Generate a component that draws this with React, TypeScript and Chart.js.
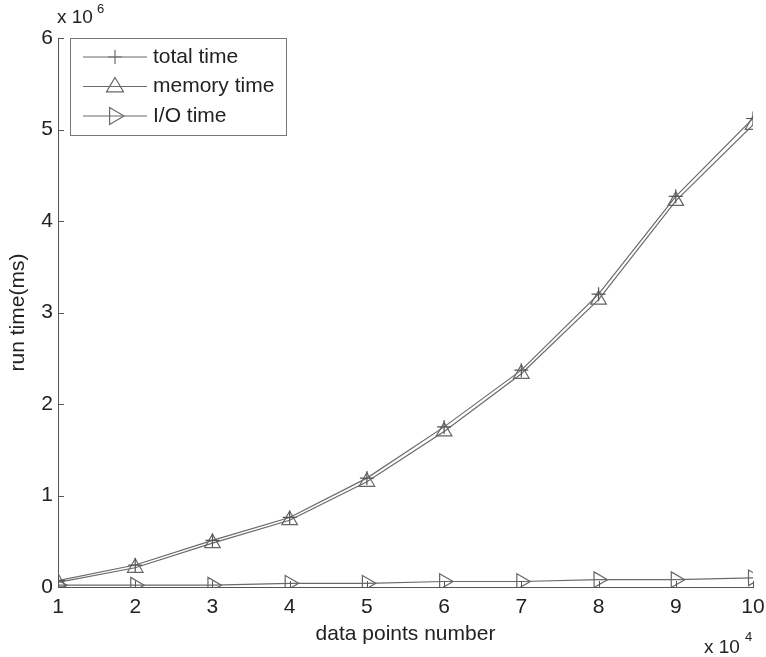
import React, { useEffect, useRef } from "react";
import { Chart, registerables } from "chart.js";

Chart.register(...registerables);

// x: data points number (x 10^4)
const pointsNumber = [1, 2, 3, 4, 5, 6, 7, 8, 9, 10];
// run time (ms) in units of 10^6
const totalTime = [0.07, 0.24, 0.51, 0.76, 1.19, 1.75, 2.37, 3.2, 4.27, 5.12];
const memoryTime = [0.05, 0.21, 0.48, 0.73, 1.15, 1.7, 2.33, 3.14, 4.22, 5.05];
const ioTime = [0.02, 0.02, 0.02, 0.04, 0.04, 0.06, 0.06, 0.08, 0.08, 0.1];
const seriesNames = ["total time", "memory time", "I/O time"];
const yTicks = [0, 1, 2, 3, 4, 5, 6];

const LINE = "#6a6a6a";
const TEXT = "#222";
const FONT = "'Liberation Sans', Arial, sans-serif";
const FS = 21;

function drawMarker(ctx: CanvasRenderingContext2D, kind: number, x: number, y: number) {
  ctx.beginPath();
  if (kind === 0) {
    const r = 7;
    ctx.moveTo(x - r, y); ctx.lineTo(x + r, y);
    ctx.moveTo(x, y - r); ctx.lineTo(x, y + r);
  } else if (kind === 1) {
    const r = 9;
    ctx.moveTo(x, y - r);
    ctx.lineTo(x + r * 0.95, y + r * 0.6);
    ctx.lineTo(x - r * 0.95, y + r * 0.6);
    ctx.closePath();
  } else {
    const r = 9;
    ctx.moveTo(x + r, y);
    ctx.lineTo(x - r * 0.6, y - r * 0.95);
    ctx.lineTo(x - r * 0.6, y + r * 0.95);
    ctx.closePath();
  }
  ctx.stroke();
}

const overlay = {
  id: "overlay",
  afterDraw(chart: any) {
    const ctx: CanvasRenderingContext2D = chart.ctx;
    const { left, bottom } = chart.chartArea;
    const xs = chart.scales.x;
    const ys = chart.scales.y;
    ctx.save();
    ctx.strokeStyle = "#555";
    ctx.lineWidth = 1;
    // inward ticks
    yTicks.forEach((v) => {
      const py = Math.round(ys.getPixelForValue(v)) + 0.5;
      ctx.beginPath(); ctx.moveTo(left, py); ctx.lineTo(left + 6, py); ctx.stroke();
    });
    pointsNumber.forEach((v) => {
      const px = Math.round(xs.getPixelForValue(v)) + 0.5;
      ctx.beginPath(); ctx.moveTo(px, bottom); ctx.lineTo(px, bottom - 6); ctx.stroke();
    });
    // legend
    const lx = 70, ly = 38, lw = 216, lh = 97;
    ctx.fillStyle = "#fff";
    ctx.fillRect(lx, ly, lw, lh);
    ctx.strokeStyle = "#777";
    ctx.strokeRect(lx + 0.5, ly + 0.5, lw, lh);
    ctx.font = `${FS}px ${FONT}`;
    ctx.textBaseline = "middle";
    ctx.textAlign = "left";
    seriesNames.forEach((name, i) => {
      const yy = ly + 19 + i * 29.5;
      ctx.strokeStyle = LINE;
      ctx.lineWidth = 1.2;
      ctx.beginPath(); ctx.moveTo(lx + 13, yy); ctx.lineTo(lx + 77, yy); ctx.stroke();
      drawMarker(ctx, i, lx + 45, yy);
      ctx.fillStyle = TEXT;
      ctx.fillText(name, lx + 83, yy);
    });
    // exponent labels
    ctx.fillStyle = TEXT;
    ctx.textBaseline = "alphabetic";
    ctx.font = `19px ${FONT}`;
    ctx.fillText("x 10", 57, 23);
    ctx.font = `13px ${FONT}`;
    ctx.fillText("6", 97, 13);
    ctx.font = `19px ${FONT}`;
    ctx.fillText("x 10", 704, 653);
    ctx.font = `13px ${FONT}`;
    ctx.fillText("4", 745, 641);
    ctx.restore();
  },
};

export default function App() {
  const ref = useRef<HTMLCanvasElement>(null);
  useEffect(() => {
    if (!ref.current) return;
    const mk = (arr: number[]) => pointsNumber.map((x, i) => ({ x, y: arr[i] }));
    const chart = new Chart(ref.current, {
      type: "line",
      data: {
        datasets: [
          { label: seriesNames[0], data: mk(totalTime), borderColor: LINE, backgroundColor: "transparent", borderWidth: 1.2, pointStyle: "cross", pointRadius: 7, pointBorderColor: "#555", pointBorderWidth: 1.2, tension: 0 },
          { label: seriesNames[1], data: mk(memoryTime), borderColor: LINE, backgroundColor: "transparent", borderWidth: 1.2, pointStyle: "triangle", pointRadius: 9, pointBorderColor: "#666", pointBackgroundColor: "transparent", pointBorderWidth: 1.2, tension: 0 },
          { label: seriesNames[2], data: mk(ioTime), borderColor: LINE, backgroundColor: "transparent", borderWidth: 1.2, pointStyle: "triangle", pointRotation: 90, pointRadius: 9, pointBorderColor: "#666", pointBackgroundColor: "transparent", pointBorderWidth: 1.2, tension: 0 },
        ],
      },
      options: {
        animation: false,
        responsive: false,
        maintainAspectRatio: false,
        layout: { padding: { top: 38, right: 0, left: 0, bottom: 0 } },
        plugins: { legend: { display: false }, tooltip: { enabled: false } },
        scales: {
          x: {
            type: "linear",
            min: 1,
            max: 10,
            afterFit: (s: any) => { s.height = 70; s.paddingRight = 13; s.paddingLeft = 0; },
            afterBuildTicks: (s: any) => { s.ticks = pointsNumber.map((v) => ({ value: v })); },
            grid: { display: true, drawOnChartArea: false, drawTicks: false },
            border: { display: true, color: "#555" },
            ticks: { color: TEXT, font: { family: FONT, size: FS }, padding: 8, maxRotation: 0, autoSkip: false },
            title: { display: true, text: "data points number", color: TEXT, font: { family: FONT, size: FS }, padding: { top: 0, bottom: 10 } },
          },
          y: {
            type: "linear",
            min: 0,
            max: 6,
            afterFit: (s: any) => { s.width = 58; },
            afterBuildTicks: (s: any) => { s.ticks = yTicks.map((v) => ({ value: v })); },
            grid: { display: true, drawOnChartArea: false, drawTicks: false },
            border: { display: true, color: "#555" },
            ticks: { color: TEXT, font: { family: FONT, size: FS }, padding: 5 },
            title: { display: true, text: "run time(ms)", color: TEXT, font: { family: FONT, size: FS }, padding: { top: 6, bottom: 0 } },
          },
        },
      },
      plugins: [overlay],
    });
    return () => chart.destroy();
  }, []);
  return (
    <div style={{ position: "fixed", left: 0, top: 0, width: 766, height: 657, background: "#fff" }}>
      <canvas ref={ref} width={766} height={657} style={{ width: 766, height: 657 }} />
    </div>
  );
}
